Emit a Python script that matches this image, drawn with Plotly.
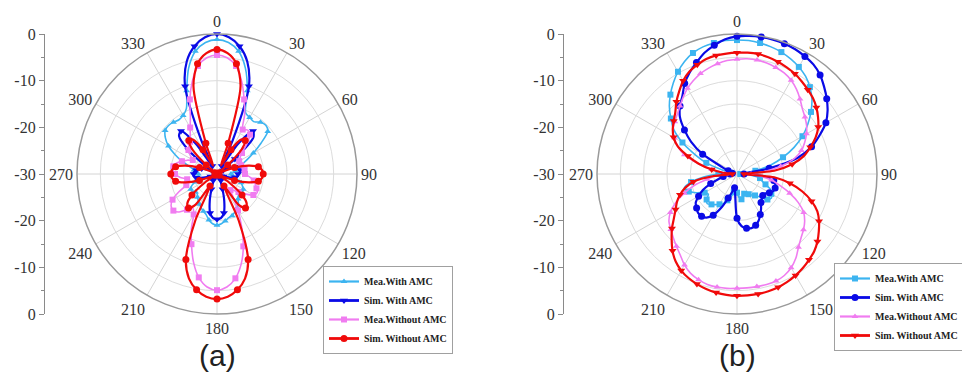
import plotly.graph_objects as go

# Azimuth angles (deg) for every sampled gain value
angles = list(range(0, 360, 5))

# ---------- (a) E-plane patterns, gain in dB ----------
a_mea_with = [-1.2, -1.7, -3.3, -6.5, -11, -15.5, -16, -16.3, -15.5, -15.2, -15.8, -18.5,
              -21, -23, -24.5, -25.5, -26, -26.5, -27, -27, -26.5, -25.5, -24.5, -24,
              -23.5, -23.3, -23.5, -23.5, -23, -22, -21.5, -21, -20.5, -20.3, -19.8, -19.3,
              -19, -19.3, -20, -21, -21.5, -22, -22.5, -23, -23.5, -24, -24, -23.5,
              -23.5, -24, -25, -25.5, -26, -26, -26, -25.5, -25, -24, -22, -20,
              -18, -16.5, -15.5, -15.3, -15.5, -15.8, -15.5, -14.5, -11, -6.5, -3.3, -1.7]
a_sim_with = [0, -0.6, -2.2, -5, -10, -22, -28, -22, -18, -19, -25, -29,
              -28.5, -27, -25.5, -25, -25, -25, -25.5, -25.5, -26, -27, -28.5, -29.5,
              -29, -28, -28.5, -29, -29.5, -29, -28.5, -28, -26.5, -24, -21.5, -20.5,
              -20.3, -20.5, -21.5, -24, -26.5, -28, -28.5, -29, -29.5, -29, -28.5, -28,
              -28.5, -29.5, -28.5, -27, -25.5, -25, -25, -25, -25.5, -25.5, -26.5, -28,
              -29, -27, -22, -18.5, -18, -22, -28, -22, -10, -5, -2.2, -0.6]
a_mea_without = [-4.5, -5, -6.5, -9.5, -13, -16, -19, -18.5, -19, -21, -23, -24,
                 -24.5, -25, -24.5, -24, -24, -24.5, -24, -23, -22, -21.5, -21, -20.5,
                 -21, -22.5, -24, -25, -25.5, -24, -21, -17.5, -13.5, -10, -7.3, -5.7,
                 -5.1, -5.7, -7.5, -10.5, -14, -17, -20, -21, -20, -18.5, -17.8, -18,
                 -19, -21, -23, -24, -23.5, -22, -21, -20.5, -20.5, -21, -22, -23,
                 -24, -23, -22, -21.5, -21, -20, -18.5, -16.5, -13, -9.5, -6.5, -5]
a_sim_without = [-3.3, -4, -6, -10.5, -23, -28, -24, -21, -20.6, -22.5, -27, -29.5,
                 -29.5, -29, -26, -23, -21, -20.3, -20.1, -20.3, -21, -23, -26, -29,
                 -29.5, -27, -23, -21, -20.5, -22, -27, -19, -10.5, -6.8, -4.8, -3.6,
                 -3.2, -3.6, -4.8, -6.8, -10.5, -19, -27, -22, -20.5, -21, -23, -27,
                 -29.5, -29, -26, -23, -21, -20.3, -20.1, -20.3, -21, -23, -26, -29,
                 -29.5, -29.5, -27, -22.5, -20.6, -21, -24, -28, -23, -10.5, -6, -4]

# ---------- (b) H-plane patterns, gain in dB ----------
b_mea_with = [-1.3, -1.3, -1.5, -1.8, -2.2, -2.8, -3.5, -4.4, -5.7, -7.3, -9.3, -11.5,
              -13.8, -16.5, -19.5, -22.5, -26, -28.5, -29.3, -27, -25, -24.5, -23.5, -22,
              -21.5, -21, -21.5, -23, -24, -24.5, -25, -25, -25.5, -25, -24.5, -25,
              -26, -27, -26, -25, -24, -23, -22.5, -22, -21.5, -21, -21.5, -22.5,
              -22, -20.5, -19, -18.3, -20, -23, -26, -28, -28.5, -27, -23, -20,
              -16.5, -13.5, -11.5, -9.5, -7.8, -6.2, -4.7, -3.4, -2.4, -1.8, -1.5, -1.3]
b_sim_with = [-0.5, -0.3, -0.2, -0.2, -0.3, -0.5, -0.9, -1.4, -2.3, -3.6, -4.9, -6.3,
              -8, -10.5, -13, -16.5, -23, -28, -28.5, -24, -22, -21.5, -21.3, -21.4,
              -22, -22.7, -22.8, -22.5, -22, -21, -20, -19, -18.3, -18, -18.2, -18.8,
              -20.5, -25.5, -27, -26, -24.5, -22, -19.8, -18.6, -18.2, -18.2, -18.7, -19.2,
              -20.5, -22, -24, -26, -27, -28, -28.5, -29, -29, -28.5, -28, -26.5,
              -21.5, -18, -15.3, -12.7, -11, -9.6, -7.6, -6, -4.6, -3.1, -2, -1]
b_mea_without = [-5.4, -5.2, -5.2, -5.4, -5.7, -6.1, -6.8, -7.8, -9, -10.2, -11, -11.8,
                 -12.8, -14, -15.3, -17.3, -20.5, -24, -27, -25, -22.5, -20.5, -18, -15.5,
                 -13.5, -12.3, -11.4, -10.6, -9.5, -8, -6.8, -6, -5.6, -5.5, -5.5, -5.5,
                 -5.5, -5.4, -5.4, -5.5, -5.9, -6.5, -7.5, -8.8, -9.8, -10.7, -11.5, -12.2,
                 -13.5, -15.5, -18, -20.5, -23.5, -25.5, -27.5, -27, -24.5, -21.5, -18, -16,
                 -14.5, -13.3, -12.6, -11.9, -11, -9.9, -8.8, -7.9, -7.1, -6.5, -6, -5.6]
b_sim_without = [-4, -3.9, -3.9, -4.1, -4.4, -4.8, -5.2, -5.8, -6.4, -7, -7.8, -8.8,
                 -9.9, -11.4, -13.3, -15.2, -18, -22, -28.5, -22, -18.5, -15.5, -13, -11,
                 -9.7, -8.6, -7.5, -6.6, -6, -5.4, -4.9, -4.5, -4.2, -4, -3.9, -3.9,
                 -3.9, -4, -4.2, -4.5, -4.9, -5.4, -6.1, -7.1, -8.5, -10.2, -11.8, -13.5,
                 -14.8, -15.8, -17, -18.5, -20.5, -25, -29, -27, -24.5, -21.5, -18.8, -16,
                 -14.3, -13.2, -12.3, -11.3, -9.8, -8.4, -6.9, -5.8, -5.1, -4.5, -4.2, -4.1]

series_names = ["Mea.With AMC", "Sim. With AMC", "Mea.Without AMC", "Sim. Without AMC"]
series_colors = ["#3cb4f0", "#0a0ae6", "#f07cf0", "#f00a0a"]
series_widths = [1.6, 2.2, 1.6, 2.2]
marker_sizes = [6, 7, 6, 7]
symbols_a = ["triangle-up", "triangle-down", "square", "circle"]
symbols_b = ["square", "circle", "triangle-up", "triangle-down"]

tick_angles = list(range(0, 360, 30))
serif = "Liberation Serif"
MARK_EVERY = 2  # a symbol on every second sample (10 deg)

fig = go.Figure()


def closed(values):
    return values + values[:1]


panels = [
    ("polar", "legend", [a_mea_with, a_sim_with, a_mea_without, a_sim_without], symbols_a),
    ("polar2", "legend2", [b_mea_with, b_sim_with, b_mea_without, b_sim_without], symbols_b),
]
for subplot, legend_id, data, symbols in panels:
    for name, values, color, width, sym, ms in zip(series_names, data, series_colors,
                                                   series_widths, symbols, marker_sizes):
        # continuous pattern curve
        fig.add_trace(go.Scatterpolar(
            r=closed(values), theta=closed(angles), mode="lines",
            line=dict(color=color, width=width, shape="spline", smoothing=0.8),
            subplot=subplot, showlegend=False, hoverinfo="skip",
        ))
        # symbols on a subset of the samples
        fig.add_trace(go.Scatterpolar(
            r=values[::MARK_EVERY], theta=angles[::MARK_EVERY], mode="markers",
            marker=dict(symbol=sym, size=ms, color=color),
            subplot=subplot, showlegend=False, name=name,
        ))
        # legend entry (line + symbol)
        fig.add_trace(go.Scatterpolar(
            r=[None], theta=[None], mode="lines+markers", name=name,
            line=dict(color=color, width=width + 0.6),
            marker=dict(symbol=sym, size=ms, color=color),
            subplot=subplot, legend=legend_id,
        ))

# invisible traces so the vertical dB scales are laid out
fig.add_trace(go.Scatter(x=[0], y=[0], xaxis="x", yaxis="y", mode="markers",
                         marker=dict(opacity=0), showlegend=False, hoverinfo="skip"))
fig.add_trace(go.Scatter(x=[0], y=[0], xaxis="x2", yaxis="y2", mode="markers",
                         marker=dict(opacity=0), showlegend=False, hoverinfo="skip"))

W, H = 962, 384
cy, R = 174, 140
ydom = [1 - (cy + R) / H, 1 - (cy - R) / H]


def polar_layout(cx):
    return dict(
        domain=dict(x=[(cx - R) / W, (cx + R) / W], y=ydom),
        bgcolor="white",
        radialaxis=dict(range=[-30, 0], tickvals=[-25, -20, -15, -10, -5],
                        showticklabels=False, ticks="", showline=False,
                        gridcolor="#dcdcdc", gridwidth=1),
        angularaxis=dict(rotation=90, direction="clockwise", tickvals=tick_angles,
                         ticktext=[str(t) for t in tick_angles], ticks="",
                         showline=True, linecolor="#9a9a9a", linewidth=1.5,
                         gridcolor="#d4d4d4", gridwidth=1,
                         tickfont=dict(family=serif, size=16, color="#333")),
    )


def scale_axis(xpos):
    return dict(domain=ydom, range=[-30, 30], anchor="free", position=xpos, side="left",
                tickvals=[30, 20, 10, 0, -10, -20, -30],
                ticktext=["0", "-10", "-20", "-30", "-20", "-10", "0"],
                showline=True, linecolor="#8a8a8a", linewidth=1.2,
                ticks="outside", ticklen=5, tickcolor="#8a8a8a",
                minor=dict(dtick=5, ticks="outside", ticklen=3, tickcolor="#8a8a8a"),
                showgrid=False, zeroline=False, fixedrange=True,
                tickfont=dict(family=serif, size=16, color="#333"))


legend_style = dict(bgcolor="white", bordercolor="#a0a0a0", borderwidth=1,
                    font=dict(family=serif, size=10, color="#222", weight="bold"),
                    xanchor="left", yanchor="top", tracegroupgap=0, itemwidth=30)

label_font = dict(family="Liberation Sans", size=30, color="#222")

fig.update_layout(
    width=W, height=H, margin=dict(l=0, r=0, t=0, b=0, autoexpand=False),
    paper_bgcolor="white", plot_bgcolor="white",
    polar=polar_layout(217),
    polar2=polar_layout(737),
    xaxis=dict(domain=[0.06, 0.07], visible=False),
    xaxis2=dict(domain=[0.6, 0.61], visible=False),
    yaxis=scale_axis(44 / W),
    yaxis2=scale_axis(563 / W),
    legend=dict(legend_style, x=323 / W, y=1 - 266 / H),
    legend2=dict(legend_style, x=834 / W, y=1 - 263 / H),
    annotations=[
        dict(text="(a)", x=217 / W, y=1 - 355 / H, xref="paper", yref="paper",
             xanchor="center", yanchor="middle", showarrow=False, font=label_font),
        dict(text="(b)", x=737 / W, y=1 - 355 / H, xref="paper", yref="paper",
             xanchor="center", yanchor="middle", showarrow=False, font=label_font),
    ],
)

fig.write_html("out.html")
